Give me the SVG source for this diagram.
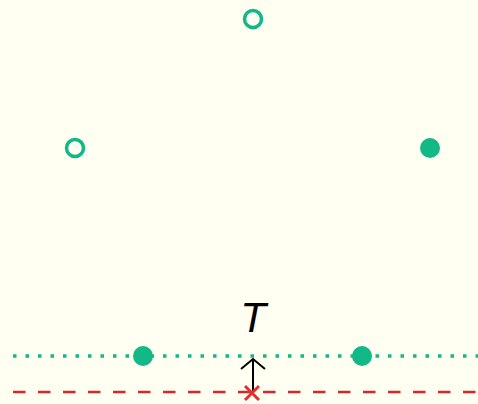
<svg xmlns="http://www.w3.org/2000/svg" width="478" height="404" viewBox="0 0 478 404">
<style>
.hollow{fill:none;stroke:#12b886;stroke-width:3.5}
.solid{fill:#12b886}
.dotted{stroke:#12b886;stroke-width:3.5;stroke-dasharray:3.5 9}
.dashed{stroke:#d62828;stroke-width:2.5;stroke-dasharray:12.5 12.5}
.arrow{stroke:#000;stroke-width:2;fill:none}
.cross{stroke:#e03131;stroke-width:3}
</style>
<rect width="478" height="404" fill="#fffff2"/>
<g id="connectors">
<line class="dotted" x1="13" y1="356" x2="478" y2="356"/>
<line class="dashed" x1="13" y1="392" x2="478" y2="392"/>
<path class="arrow" d="M253 392 V359 M241 369 L253 359 L265 369"/>
</g>
<g id="node-top"><circle class="hollow" cx="253" cy="19" r="8.5"/></g>
<g id="node-left"><circle class="hollow" cx="75" cy="148" r="8.5"/></g>
<g id="node-right"><circle class="solid" cx="430" cy="148" r="10"/></g>
<g id="node-bl"><circle class="solid" cx="143" cy="356" r="10"/></g>
<g id="node-br"><circle class="solid" cx="362" cy="356" r="10"/></g>
<g id="cross"><path class="cross" d="M245 386 L259 400 M259 386 L245 400"/></g>
<g id="label-T"><text x="253" y="332" text-anchor="middle" font-family="Liberation Sans, sans-serif" font-style="italic" font-size="42">T</text></g>
</svg>
